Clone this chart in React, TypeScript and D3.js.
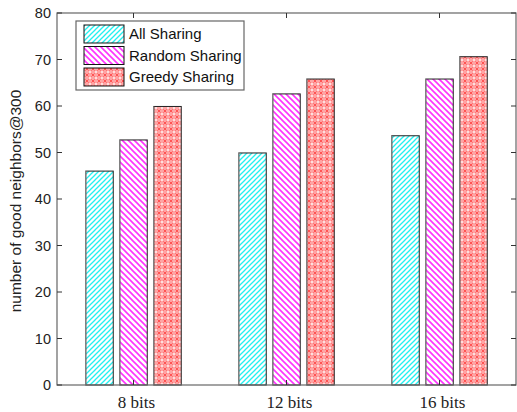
import React from "react";
import * as d3 from "d3";

const categories = ["8 bits", "12 bits", "16 bits"];
const seriesNames = ["All Sharing", "Random Sharing", "Greedy Sharing"];
const allSharing = [46.0, 49.9, 53.6];
const randomSharing = [52.7, 62.6, 65.8];
const greedySharing = [59.9, 65.8, 70.6];
const yTicks = [0, 10, 20, 30, 40, 50, 60, 70, 80];

const W = 517, H = 412;
const M = { left: 57, right: 516, top: 13, bottom: 385 };

export default function App() {
  const series = [allSharing, randomSharing, greedySharing];
  const x = d3.scaleLinear().domain([0.5, 3.5]).range([M.left, M.right]);
  const y = d3.scaleLinear().domain([0, 80]).range([M.bottom, M.top]);
  const barW = 27.5;
  const step = 34;
  const patterns = ["pCyan", "pMag", "pRed"];
  const axisColor = "#666";

  return (
    <svg width={W} height={H} style={{ position: "absolute", left: 0, top: 0, background: "#fff" }}>
      <defs>
        <pattern id="pCyan" patternUnits="userSpaceOnUse" width="5" height="5">
          <rect width="5" height="5" fill="#fff" />
          <path d="M-1,6 L6,-1 M-1,1 L1,-1 M4,6 L6,4" stroke="#22f0f0" strokeWidth="1.3" />
        </pattern>
        <pattern id="pMag" patternUnits="userSpaceOnUse" width="6" height="6">
          <rect width="6" height="6" fill="#fff" />
          <path d="M-1,-1 L7,7 M5,-1 L7,1 M-1,5 L1,7" stroke="#ff33ff" strokeWidth="1.6" />
        </pattern>
        <pattern id="pRed" patternUnits="userSpaceOnUse" width="6" height="6">
          <rect width="6" height="6" fill="#ffa4a4" />
          <rect x="2.2" y="2.2" width="1.6" height="1.6" fill="#fff" />
          <rect x="-0.8" y="-0.8" width="1.6" height="1.6" fill="#fff" />
          <rect x="5.2" y="-0.8" width="1.6" height="1.6" fill="#fff" />
          <rect x="-0.8" y="5.2" width="1.6" height="1.6" fill="#fff" />
          <rect x="5.2" y="5.2" width="1.6" height="1.6" fill="#fff" />
          <path d="M1.5,1.5 L4.5,4.5 M4.5,1.5 L1.5,4.5" stroke="#ff3030" strokeWidth="0.8" />
        </pattern>
      </defs>

      {/* bars */}
      {series.map((vals, si) =>
        vals.map((v, ci) => {
          const cx = x(ci + 1) + (si - 1) * step;
          return (
            <g key={`${si}-${ci}`}>
              <rect x={cx - barW / 2} y={y(v)} width={barW} height={y(0) - y(v)}
                fill={`url(#${patterns[si]})`} stroke="#222" strokeWidth={1} />
              <line x1={cx - barW / 2} x2={cx - barW / 2} y1={y(v)} y2={y(0)} stroke="#888" strokeWidth={1.2} />
            </g>
          );
        })
      )}

      {/* axes box */}
      <rect x={M.left} y={M.top} width={M.right - M.left} height={M.bottom - M.top}
        fill="none" stroke={axisColor} strokeWidth={1.2} />
      {yTicks.map((t) => (
        <g key={t}>
          <line x1={M.left} x2={M.left + 5} y1={y(t)} y2={y(t)} stroke="#333" />
          <line x1={M.right - 5} x2={M.right} y1={y(t)} y2={y(t)} stroke="#333" />
          <text x={M.left - 6} y={y(t)} dy="0.35em" textAnchor="end"
            fontFamily="Liberation Sans, Arial, sans-serif" fontSize={14.5} fill="#222">{t}</text>
        </g>
      ))}
      {categories.map((c, i) => (
        <g key={c}>
          <line x1={x(i + 1)} x2={x(i + 1)} y1={M.top} y2={M.top + 5} stroke="#333" />
          <line x1={x(i + 1)} x2={x(i + 1)} y1={M.bottom} y2={M.bottom - 5} stroke="#333" />
          <text x={x(i + 1) + 3} y={408} textAnchor="middle"
            fontFamily="Liberation Serif, Times New Roman, serif" fontSize={17} fill="#222">{c}</text>
        </g>
      ))}

      <text transform={`translate(21,${(M.top + M.bottom) / 2 + 2}) rotate(-90)`} textAnchor="middle"
        fontFamily="Liberation Sans, Arial, sans-serif" fontSize={15.5} fill="#222">
        number of good neighbors@300
      </text>

      {/* legend */}
      <rect x={76} y={21} width={168} height={69} fill="#fff" stroke={axisColor} strokeWidth={1.2} />
      {seriesNames.map((n, i) => (
        <g key={n}>
          <rect x={84} y={25 + i * 21.5} width={40} height={18} fill={`url(#${patterns[i]})`} stroke="#111" />
          <text x={129} y={34 + i * 21.5} dy="0.35em"
            fontFamily="Liberation Sans, Arial, sans-serif" fontSize={15} fill="#111">{n}</text>
        </g>
      ))}
    </svg>
  );
}
